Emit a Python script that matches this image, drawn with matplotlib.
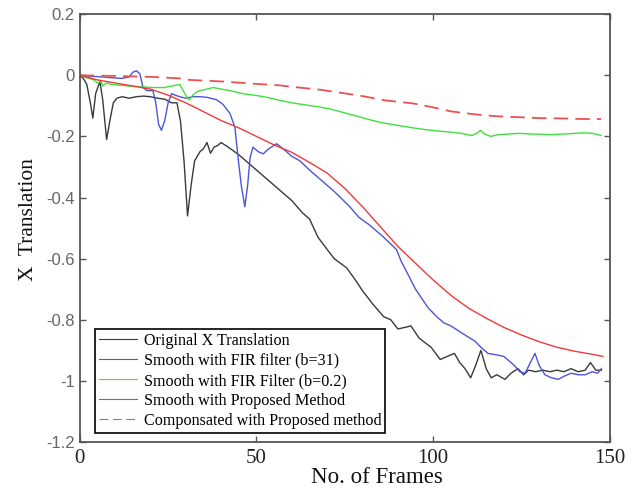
import numpy as np
import matplotlib
matplotlib.use('Agg')
import matplotlib.pyplot as plt

# values
orig_x = [0, 1, 2, 3, 3.7, 4.5, 5.7, 6.5, 7.6, 8.5, 9.5, 10.5, 12, 14, 16, 18, 20, 22, 24, 26,
          27.5, 28.5, 29.5, 30.5, 31.5, 32.5, 34, 35, 36, 37, 38, 39, 40, 42, 45, 48, 51, 54,
          57, 60, 63, 65, 67.4, 70, 72, 75.5, 78, 80, 83, 86, 88, 90, 92, 93.7, 96, 99.4, 102,
          104, 106, 107.5, 109, 110.6, 112, 113.5, 115, 116.4, 118, 120.3, 122, 124, 125.6,
          127, 129, 131, 133, 135, 137, 139, 141, 143, 144.5, 146, 147.6]
orig_y = [0, -0.01, -0.03, -0.09, -0.14, -0.06, -0.02, -0.08, -0.21, -0.15, -0.09, -0.075,
          -0.07, -0.075, -0.07, -0.068, -0.07, -0.075, -0.078, -0.09, -0.09, -0.15, -0.28,
          -0.46, -0.36, -0.28, -0.25, -0.24, -0.22, -0.255, -0.235, -0.23, -0.22, -0.235,
          -0.26, -0.29, -0.32, -0.35, -0.38, -0.41, -0.45, -0.47, -0.53, -0.57, -0.60, -0.63,
          -0.67, -0.705, -0.75, -0.79, -0.80, -0.83, -0.825, -0.82, -0.86, -0.89, -0.93,
          -0.92, -0.91, -0.94, -0.96, -0.99, -0.95, -0.90, -0.96, -0.99, -0.98, -0.995,
          -0.975, -0.96, -0.98, -0.965, -0.97, -0.965, -0.97, -0.965, -0.97, -0.96, -0.97,
          -0.965, -0.94, -0.965, -0.965]

fir31_x = [0, 3, 6, 9, 12, 14, 15, 16, 17, 17.9, 19, 20.7, 21.5, 22.3, 23.1, 24, 25, 26, 27,
           28.3, 30, 32, 34, 36, 38.7, 40.5, 42.5, 43.9, 44.8, 45.7, 46.7, 47.5, 48.2, 49,
           50.5, 51.9, 53.5, 55.7, 57.5, 60, 62.3, 65, 68, 72, 76.4, 79, 82, 86, 89.6, 91,
           92.8, 95, 98.5, 101, 103, 105, 107, 109, 111.8, 113.5, 115.5, 118, 120, 121.5,
           123, 124.5, 126, 127.5, 128.8, 130, 131.6, 133.5, 135.4, 137, 139, 141, 143, 145,
           146.5, 147.6]
fir31_y = [0, -0.003, -0.005, -0.008, -0.01, -0.005, 0.01, 0.015, 0.005, -0.04, -0.05, -0.05,
           -0.09, -0.16, -0.18, -0.15, -0.09, -0.06, -0.065, -0.07, -0.075, -0.07, -0.07,
           -0.072, -0.08, -0.095, -0.125, -0.17, -0.27, -0.36, -0.43, -0.36, -0.27, -0.235,
           -0.25, -0.257, -0.24, -0.224, -0.24, -0.265, -0.28, -0.31, -0.34, -0.38, -0.43,
           -0.465, -0.49, -0.53, -0.57, -0.61, -0.65, -0.70, -0.76, -0.79, -0.81, -0.82,
           -0.835, -0.85, -0.87, -0.89, -0.91, -0.915, -0.92, -0.935, -0.95, -0.97, -0.975,
           -0.94, -0.91, -0.95, -0.98, -0.99, -0.995, -0.985, -0.975, -0.98, -0.98, -0.97,
           -0.975, -0.96]

fir02_x = [0, 2, 4, 5, 6, 6.5, 7.5, 9, 12, 15, 18, 21, 24, 26, 28.3, 29, 30, 31, 32, 33, 34,
           36, 37.7, 40, 42.5, 46, 50, 53, 56.6, 60, 64, 68, 70.8, 74, 77.3, 81, 85, 89, 94.3,
           98, 101, 105, 108, 110, 111, 112.3, 113.4, 114.5, 116.3, 118, 120, 124, 128, 133.3,
           137, 140, 143, 145, 147.5]
fir02_y = [0, -0.008, -0.015, -0.025, -0.02, -0.035, -0.025, -0.03, -0.033, -0.036, -0.038,
           -0.04, -0.04, -0.035, -0.03, -0.045, -0.065, -0.08, -0.065, -0.055, -0.05, -0.045,
           -0.04, -0.045, -0.05, -0.06, -0.066, -0.072, -0.082, -0.09, -0.097, -0.104, -0.11,
           -0.12, -0.13, -0.142, -0.154, -0.162, -0.172, -0.178, -0.182, -0.186, -0.19,
           -0.195, -0.197, -0.19, -0.18, -0.192, -0.2, -0.195, -0.193, -0.19, -0.192, -0.194,
           -0.192, -0.19, -0.188, -0.19, -0.197]

prop_x = [0, 5, 10, 15, 20, 25, 30, 34, 40, 45, 50, 55, 60, 65, 70, 75, 80, 85, 90, 95, 100,
          105, 110, 115, 120, 125, 130, 135, 140, 145, 148]
prop_y = [0, -0.015, -0.025, -0.035, -0.045, -0.065, -0.09, -0.113, -0.148, -0.172, -0.2,
          -0.228, -0.252, -0.285, -0.32, -0.37, -0.43, -0.495, -0.56, -0.615, -0.67, -0.72,
          -0.762, -0.795, -0.825, -0.85, -0.872, -0.89, -0.903, -0.913, -0.92]

comp_x = [0, 10, 20, 28.3, 31, 40, 50, 56.6, 62, 68, 75.5, 80, 86.4, 94.3, 100, 105, 112, 118,
          124, 130, 136, 142, 147.5]
comp_y = [0, -0.002, -0.005, -0.01, -0.015, -0.02, -0.028, -0.033, -0.04, -0.047, -0.06,
          -0.068, -0.082, -0.092, -0.105, -0.118, -0.128, -0.134, -0.137, -0.14, -0.141,
          -0.143, -0.143]

labels = ['Original X Translation', 'Smooth with FIR filter (b=31)',
          'Smooth with FIR Filter (b=0.2)', 'Smooth with Proposed Method',
          'Componsated with Proposed method']

serif = ['Liberation Serif', 'DejaVu Serif']

fig = plt.figure(figsize=(6.38, 4.90), dpi=100)
ax = fig.add_axes([0.125, 0.098, 0.831, 0.873])

ax.plot(orig_x, orig_y, color='#3a3a3a', lw=1.0, label=labels[0])
ax.plot(fir31_x, fir31_y, color='#4d55d8', lw=1.0, label=labels[1])
ax.plot(fir02_x, fir02_y, color='#3ee03e', lw=1.0, label=labels[2])
ax.plot(prop_x, prop_y, color='#ee3a3a', lw=1.0, label=labels[3])
ax.plot(comp_x, comp_y, color='#ee5050', lw=1.3, ls=(0, (8, 4)), label=labels[4])

ax.set_xlim(0, 150)
ax.set_ylim(-1.2, 0.2)
ax.set_xticks([0, 50, 100, 150])
ax.set_yticks(np.arange(-1.2, 0.21, 0.2))
ax.set_yticklabels(['-1.2', '-1', '-0.8', '-0.6', '-0.4', '-0.2', '0', '0.2'])

ax.tick_params(direction='in', length=4, width=1, top=True, right=True, colors='#555555')
ax.tick_params(axis='x', pad=5)
for lab in ax.get_xticklabels():
    lab.set_fontfamily(serif)
    lab.set_fontsize(15)
    lab.set_color('#222222')
for lab in ax.get_yticklabels():
    lab.set_fontfamily(['Liberation Sans', 'DejaVu Sans'])
    lab.set_fontsize(12)
    lab.set_color('#666666')
for sp in ax.spines.values():
    sp.set_color('#555555')
    sp.set_linewidth(1.3)

ax.set_xlabel('No. of Frames', fontfamily=serif, fontsize=16.5, color='#111111', labelpad=0)
ax.xaxis.set_label_coords(0.56, -0.058)
ax.set_ylabel('X  Translation', fontfamily=serif, fontsize=15.5, color='#111111', labelpad=8)
ax.yaxis.set_label_coords(-0.078, 0.52)

leg = ax.legend(loc='lower left', bbox_to_anchor=(0.028, 0.021), borderaxespad=0,
                prop={'family': serif, 'size': 11.6}, fancybox=False, framealpha=1,
                edgecolor='black', handlelength=2.4, handletextpad=0.4,
                labelspacing=0.25, borderpad=0.25)
leg.get_frame().set_linewidth(1.2)
for h in leg.get_lines():
    h.set_linewidth(0.8)

fig.savefig('out.png', dpi=100)
